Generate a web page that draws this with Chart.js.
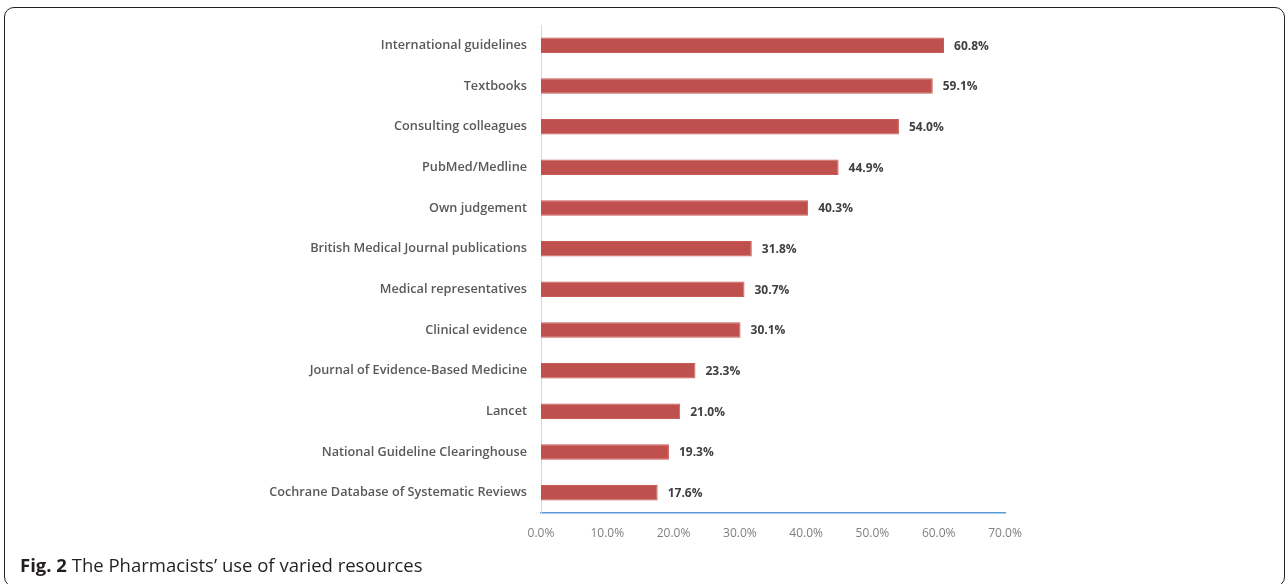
<!DOCTYPE html>
<html>
<head>
<meta charset="utf-8">
<script src="https://cdn.jsdelivr.net/npm/chart.js@4"></script>
<style>
  html, body { margin: 0; padding: 0; background: #fff; }
  #wrap { position: relative; width: 1288px; height: 584px; overflow: hidden; }
  #frame { position: absolute; left: 4px; top: 7px; width: 1281px; height: 580px;
           border: 1.5px solid #222; border-radius: 10px; box-sizing: border-box; }
  #chart-box { position: absolute; left: 0; top: 0; width: 1288px; height: 584px; }
  #caption { position: absolute; left: 20px; top: 552px; font-family: 'Open Sans', sans-serif;
             font-size: 18.5px; color: #231f20; white-space: nowrap; }
  #caption b { font-weight: 700; }
</style>
</head>
<body>
<div id="wrap">
  <div id="frame"></div>
  <div id="chart-box"><canvas id="bar-chart"></canvas></div>
  <div id="caption"><b>Fig. 2</b> The Pharmacists’ use of varied resources</div>
</div>
<script>
const categories = [
    'International guidelines',
    'Textbooks',
    'Consulting colleagues',
    'PubMed/Medline',
    'Own judgement',
    'British Medical Journal publications',
    'Medical representatives',
    'Clinical evidence',
    'Journal of Evidence-Based Medicine',
    'Lancet',
    'National Guideline Clearinghouse',
    'Cochrane Database of Systematic Reviews'
];
const percentages = [60.8, 59.1, 54.0, 44.9, 40.3, 31.8, 30.7, 30.1, 23.3, 21.0, 19.3, 17.6];
const xTicks = [0, 10, 20, 30, 40, 50, 60, 70];

// draws the "60.8%" labels at bar ends
const valueLabels = {
    id: 'valueLabels',
    afterDatasetsDraw(chart) {
        const ctx = chart.ctx;
        const meta = chart.getDatasetMeta(0);
        ctx.save();
        ctx.font = 'bold 12px "Open Sans"';
        ctx.fillStyle = '#404040';
        ctx.textAlign = 'left';
        ctx.textBaseline = 'middle';
        meta.data.forEach((bar, i) => {
            ctx.fillText(percentages[i].toFixed(1) + '%', bar.x + 10, bar.y + 1);
        });
        ctx.restore();
    }
};

new Chart(document.getElementById('bar-chart'), {
    type: 'bar',
    data: {
        labels: categories,
        datasets: [{
            data: percentages,
            backgroundColor: '#C0504D',
            borderColor: '#C85a57',
            borderWidth: 1,
            barPercentage: 0.38,
            categoryPercentage: 1
        }]
    },
    options: {
        indexAxis: 'y',
        responsive: true,
        maintainAspectRatio: false,
        animation: false,
        layout: { padding: { left: 0, right: 283, top: 25, bottom: 0 } },
        scales: {
            x: {
                min: 0,
                max: 70,
                afterFit: (axis) => { axis.height = 71; },
                afterBuildTicks: (axis) => { axis.ticks = xTicks.map(v => ({ value: v })); },
                grid: { display: false },
                border: { display: true, color: '#5B9BD5', width: 1.5 },
                ticks: {
                    color: '#7f7f7f',
                    padding: 5,
                    font: { family: 'Open Sans', size: 12 },
                    callback: (value) => value.toFixed(1) + '%'
                }
            },
            y: {
                afterFit: (axis) => { axis.width = 541; },
                grid: { display: false },
                border: { display: true, color: '#d9d9d9', width: 1 },
                ticks: {
                    color: '#595959',
                    padding: 6,
                    autoSkip: false,
                    font: { family: 'Open Sans', size: 12.7, weight: '600' }
                }
            }
        },
        plugins: {
            legend: { display: false },
            tooltip: { enabled: false }
        }
    },
    plugins: [valueLabels]
});
</script>
</body>
</html>
